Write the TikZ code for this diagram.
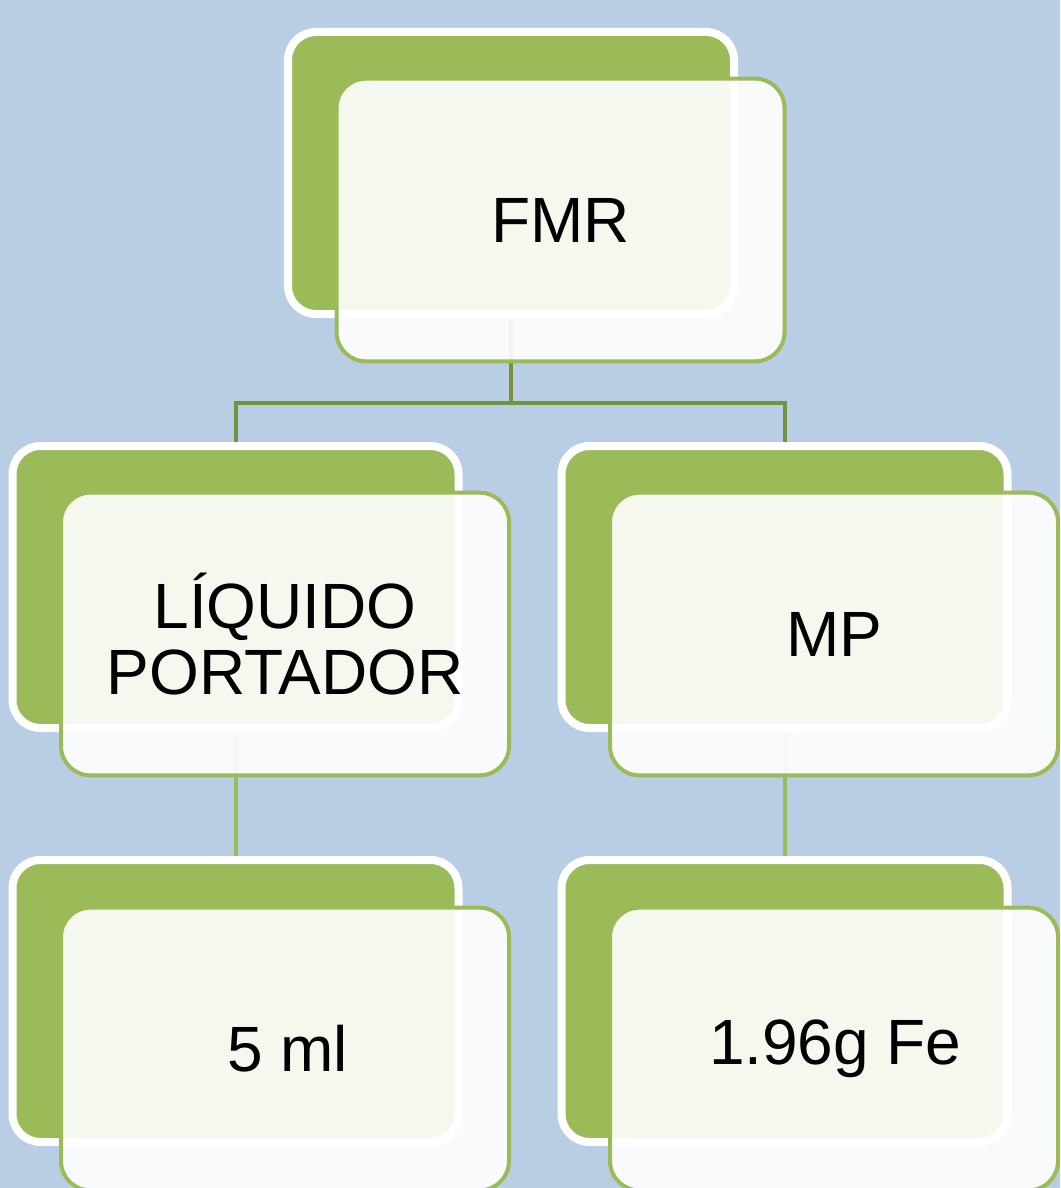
\documentclass[tikz,border=0pt]{standalone}
\usepackage{fontspec}
\setmainfont{Liberation Sans}
\usetikzlibrary{shadows}
\definecolor{bg}{HTML}{B9CDE5}
\definecolor{grn}{HTML}{9BBB59}
\definecolor{dgrn}{HTML}{76923C}
\tikzset{
  backbox/.style={rectangle, fill=grn, draw=white, line width=6pt, rounded corners=21pt,
    minimum width=334.5pt, minimum height=211.5pt,
    drop shadow={shadow xshift=-1.5pt, shadow yshift=-2pt, opacity=0.25}},
  frontbox/.style={rectangle, fill=white, fill opacity=0.9, text opacity=1, draw=grn, line width=3pt,
    rounded corners=22pt, minimum width=336pt, minimum height=212pt,
    font=\fontsize{48}{49.5}\selectfont, align=center, text=black},
  connA/.style={draw=dgrn, line width=3pt},
  connB/.style={draw=grn, line width=3pt}
}
\begin{document}
\begin{tikzpicture}[x=0.75pt, y=-0.75pt]
\useasboundingbox (0,0) rectangle (1060,1188);
\clip (0,0) rectangle (1060,1188);
\fill[bg] (0,0) rectangle (1060,1188);
% back boxes
\node[backbox] (tb) at (511,173) {};
\node[backbox] (lb) at (235.5,587) {};
\node[backbox] (rb) at (784.5,587) {};
\node[backbox] (llb) at (235.5,1001) {};
\node[backbox] (rrb) at (784.5,1001) {};
% connectors
\coordinate (j) at (511,403);
\draw[connA] (tb.south) -- (j) -| (lb.north);
\draw[connA] (j) -| (rb.north);
\draw[connB] (lb.south) -- (llb.north);
\draw[connB] (rb.south) -- (rrb.north);
% front boxes
\node[frontbox] (tf) at (560.5,220) {FMR};
\node[frontbox] (lf) at (285,634) {LÍQUIDO\\PORTADOR};
\node[frontbox] (rf) at (834,634) {MP};
\node[frontbox] (llf) at (285,1049) {\hspace*{4pt}5 ml};
\node[frontbox] (rrf) at (834,1049) {\hspace*{2pt}1.96g Fe};
\end{tikzpicture}
\end{document}
